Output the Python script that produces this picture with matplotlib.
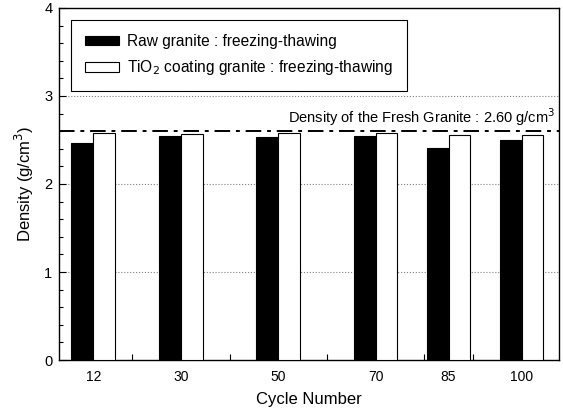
import matplotlib.pyplot as plt
import numpy as np
from matplotlib.ticker import MultipleLocator

plt.rcParams['font.family'] = ['Liberation Sans', 'DejaVu Sans']

cycles = [12, 30, 50, 70, 85, 100]
raw_density = [2.47, 2.54, 2.53, 2.55, 2.41, 2.50]
tio2_density = [2.575, 2.565, 2.58, 2.58, 2.56, 2.56]
fresh_density = 2.60

x = np.array(cycles, dtype=float)
w = 4.5

fig = plt.figure(figsize=(5.63, 4.12), dpi=100)
ax = fig.add_axes([0.1053, 0.1262, 0.8877, 0.8544])

ax.bar(x - w / 2, raw_density, width=w, color='black', edgecolor='black',
       linewidth=0.8, label='Raw granite : freezing-thawing', zorder=3)
ax.bar(x + w / 2, tio2_density, width=w, color='white', edgecolor='black',
       linewidth=0.8, label='TiO$_2$ coating granite : freezing-thawing', zorder=3)

ax.axhline(fresh_density, color='black', linestyle=(0, (8, 3, 2, 3)), linewidth=1.4, zorder=4)
ax.text(0.992, fresh_density + 0.04, 'Density of the Fresh Granite : 2.60 g/cm$^3$',
        transform=ax.get_yaxis_transform(), ha='right', va='bottom', fontsize=10.5)

ax.set_xlim(5, 107.7)
ax.set_ylim(0, 4)

for yv in [1, 2, 3]:
    ax.axhline(yv, color='gray', linestyle=':', linewidth=0.8, zorder=1)

ax.set_xticks(cycles)
ax.set_xticklabels([str(c) for c in cycles], fontsize=10)
ax.xaxis.set_minor_locator(MultipleLocator(10))
ax.tick_params(axis='x', which='major', length=0, pad=7)
ax.tick_params(axis='x', which='minor', direction='in', length=4, width=0.8)

ax.set_yticks([0, 1, 2, 3, 4])
ax.yaxis.set_minor_locator(MultipleLocator(0.2))
ax.tick_params(axis='y', which='major', direction='in', length=5, width=0.8, labelsize=10.5, pad=5)
ax.tick_params(axis='y', which='minor', direction='in', length=3, width=0.8)

for s in ax.spines.values():
    s.set_linewidth(1.0)

ax.set_xlabel('Cycle Number', fontsize=12, labelpad=6)
ax.set_ylabel('Density (g/cm$^3$)', fontsize=12, labelpad=6)

leg = ax.legend(loc='upper left', bbox_to_anchor=(0.023, 0.966), borderaxespad=0,
                fontsize=11.2, fancybox=False, edgecolor='black', framealpha=1,
                handlelength=2.2, handleheight=0.6, labelspacing=0.6,
                borderpad=0.9, handletextpad=0.5)
leg.get_frame().set_linewidth(0.8)

fig.savefig('out.png', dpi=100)
